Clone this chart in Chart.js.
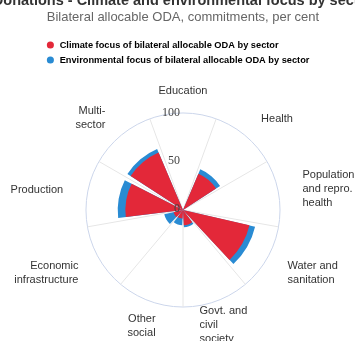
<!DOCTYPE html>
<html>
<head>
<meta charset="utf-8">
<script src="https://cdn.jsdelivr.net/npm/chart.js@4/dist/chart.umd.min.js"></script>
<style>
  html, body { margin: 0; padding: 0; background: #fff; }
  #wrap { position: relative; width: 355px; height: 341px; overflow: hidden; }
  #inner { position: absolute; left: -47px; top: 0; width: 460px; height: 352px; }
</style>
</head>
<body>
<div id="wrap"><div id="inner"><canvas id="chart"></canvas></div></div>
<script>
// ---- data ----
const categories = [
  'Education',
  'Health',
  ['Population', 'and repro.', 'health'],
  ['Water and', 'sanitation'],
  ['Govt. and', 'civil', 'society'],
  ['Other', 'social'],
  ['Economic', 'infrastructure'],
  'Production',
  ['Multi-', 'sector']
];
const climateFocus       = [0, 40, 0, 70, 15, 8, 9, 59, 64];
const environmentalFocus = [0, 45, 0, 76, 17, 15, 19, 67, 68];
const radialTicks = [0, 50, 100];
const seriesNames = [
  'Climate focus of bilateral allocable ODA by sector',
  'Environmental focus of bilateral allocable ODA by sector'
];

// ---- styling / label placement ----
const RED = 'rgb(227,40,57)';
const BLUE = 'rgb(41,139,211)';
const SECTOR = 360 / categories.length;
const WEDGE = SECTOR - 6;
const GAP = SECTOR - WEDGE;
const labelSlot    = [0, 43, 90, 115, 170, 195, 245, 276, 315];   // degrees
const labelPadding = [6.6, 9.5, 14.4, 10.3, -9.7, 0.9, 10.3, 15.5, 4.7];
const labelLift    = [0, 0, 3, 0, 0, 0, 0, 0, 0];                 // blank lines below text
const gridEvery = SECTOR, gridOffset = SECTOR / 2;

// each category becomes a wedge centred on its direction, with empty gaps between
function expandValues(values) {
  const out = [values[0]];
  for (let k = 1; k < values.length; k++) out.push(null, values[k]);
  out.push(null, values[0]);
  return out;
}
function expandAngles(n) {
  const out = [WEDGE / 2];
  for (let k = 1; k < n; k++) out.push(GAP, WEDGE);
  out.push(GAP, WEDGE / 2);
  return out;
}
// one radial slot per degree; category names sit in their slots
const slotLabels = new Array(360).fill('');
const slotCat = new Array(360).fill(-1);
categories.forEach((c, k) => {
  const lines = [].concat(c);
  for (let j = 0; j < labelLift[k]; j++) lines.push('');
  slotLabels[labelSlot[k]] = lines.length === 1 ? lines[0] : lines;
  slotCat[labelSlot[k]] = k;
});

Chart.defaults.font.family = '"Liberation Sans", Arial, sans-serif';
Chart.defaults.color = '#333';

const legendPlace = {
  id: 'legendPlace',
  afterLayout(chart) { chart.legend.left = 40 + 47; chart.legend.top = 34.6; }
};

new Chart(document.getElementById('chart'), {
  type: 'polarArea',
  data: {
    labels: slotLabels,
    datasets: [
      { label: seriesNames[0], data: expandValues(climateFocus), angle: expandAngles(categories.length),
        backgroundColor: RED, borderWidth: 0 },
      { label: seriesNames[1], data: expandValues(environmentalFocus), angle: expandAngles(categories.length),
        backgroundColor: BLUE, borderWidth: 0 }
    ]
  },
  options: {
    responsive: true,
    maintainAspectRatio: false,
    animation: false,
    layout: { padding: { left: 0, right: 0, top: -8, bottom: 0 } },
    plugins: {
      title: {
        display: true,
        text: 'Donations - Climate and environmental focus by sector',
        color: '#333',
        font: { size: 14.5, weight: 'bold' },
        padding: { top: 0, bottom: 0 }
      },
      subtitle: {
        display: true,
        text: 'Bilateral allocable ODA, commitments, per cent',
        color: '#666',
        font: { size: 13 },
        padding: { top: 0.4, bottom: 54.6 }
      },
      legend: {
        display: true,
        position: 'chartArea',
        align: 'start',
        labels: {
          usePointStyle: true,
          pointStyle: 'circle',
          boxHeight: 5,
          padding: 5.75,
          color: '#333',
          font: { size: 9.25, weight: 'bold' },
          generateLabels: (chart) => chart.data.datasets.map((ds, i) => ({
            text: ds.label, fillStyle: ds.backgroundColor, strokeStyle: ds.backgroundColor,
            lineWidth: 0, pointStyle: 'circle', hidden: false, datasetIndex: i
          }))
        }
      },
      tooltip: { enabled: false }
    },
    scales: {
      r: {
        min: -1,
        max: 100,
        startAngle: 0,
        afterBuildTicks: (s) => { s.ticks = radialTicks.map(v => ({ value: v })); },
        grid: {
          circular: true,
          color: (ctx) => (ctx.tick && ctx.tick.value === 100) ? '#ccd6eb' : 'rgba(0,0,0,0)',
          lineWidth: 1
        },
        angleLines: {
          display: true,
          color: (ctx) => ((ctx.index - gridOffset) % gridEvery === 0) ? '#e6e6e6' : 'rgba(0,0,0,0)',
          lineWidth: 1
        },
        pointLabels: {
          display: true,
          color: '#333',
          font: (ctx) => slotCat[ctx.index] >= 0 ? { size: 11, lineHeight: 14 / 11 } : { size: 1, lineHeight: 1 },
          padding: (ctx) => slotCat[ctx.index] >= 0 ? labelPadding[slotCat[ctx.index]] : 0
        },
        ticks: {
          z: 1,
          showLabelBackdrop: false,
          color: '#444',
          font: { family: '"Liberation Serif", "Times New Roman", serif', size: 12 },
          callback: (v) => v < 0 ? '' : String(v) + '\u2007'.repeat(String(v).length + 1)
        }
      }
    }
  },
  plugins: [legendPlace]
});
</script>
</body>
</html>
